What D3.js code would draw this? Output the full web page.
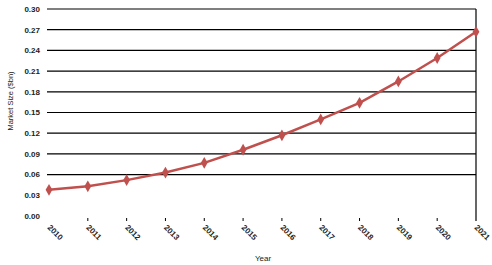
<!DOCTYPE html>
<html>
<head>
<meta charset="utf-8">
<script src="https://cdn.jsdelivr.net/npm/d3@7"></script>
<style>
  body { margin: 0; background: #fff; }
  text { font-family: "Liberation Sans", Arial, sans-serif; }
</style>
</head>
<body>
<div id="chart"></div>
<script>
const years = ["2010", "2011", "2012", "2013", "2014", "2015", "2016", "2017", "2018", "2019", "2020", "2021"];
const marketSize = [0.038, 0.043, 0.052, 0.063, 0.077, 0.096, 0.117, 0.140, 0.164, 0.195, 0.229, 0.267];
const yTicks = [0.00, 0.03, 0.06, 0.09, 0.12, 0.15, 0.18, 0.21, 0.24, 0.27, 0.30];

const W = 492, H = 265;
const margin = { top: 9, right: 16, bottom: 49, left: 49 };
const width = W - margin.left - margin.right;
const height = H - margin.top - margin.bottom;

const svg = d3.select("#chart")
  .append("svg")
  .attr("width", W)
  .attr("height", H)
  .append("g")
  .attr("transform", `translate(${margin.left},${margin.top})`);

const x = d3.scalePoint().domain(years).range([0, 427]);
const y = d3.scaleLinear().domain([0, 0.30]).range([height, 0]);

// gridlines (only from 0.06 up, as in the original)
svg.append("g")
  .selectAll("line")
  .data(yTicks.filter((d) => d >= 0.06))
  .enter()
  .append("line")
  .attr("x1", -2)
  .attr("x2", x("2021"))
  .attr("y1", (d) => y(d))
  .attr("y2", (d) => y(d))
  .attr("stroke", "#000")
  .attr("stroke-width", 1.2);

// right border
svg.append("line")
  .attr("x1", x("2021"))
  .attr("x2", x("2021"))
  .attr("y1", y(0.30))
  .attr("y2", height + 5)
  .attr("stroke", "#000")
  .attr("stroke-width", 1.2);

// y tick labels
svg.append("g")
  .selectAll("text")
  .data(yTicks)
  .enter()
  .append("text")
  .attr("x", -9)
  .attr("y", (d) => y(d))
  .attr("dy", "0.35em")
  .attr("text-anchor", "end")
  .attr("font-size", 8)
  .attr("font-weight", "bold")
  .attr("fill", "#222")
  .text((d) => d.toFixed(2));

// x ticks
const xAxis = svg.append("g").attr("transform", `translate(0,${height + 2})`);
xAxis.selectAll("line")
  .data(years.slice(1, -1))
  .enter()
  .append("line")
  .attr("x1", (d) => x(d))
  .attr("x2", (d) => x(d))
  .attr("y1", 0)
  .attr("y2", 3)
  .attr("stroke", "#000");

xAxis.selectAll("text")
  .data(years)
  .enter()
  .append("text")
  .attr("transform", (d) => `translate(${x(d) - 2},10)rotate(45)`)
  .attr("font-size", 8)
  .attr("font-weight", "bold")
  .attr("fill", "#222")
  .text((d) => d);

// axis titles
svg.append("text")
  .attr("x", 214)
  .attr("y", height + 45)
  .attr("text-anchor", "middle")
  .attr("font-size", 8)
  .attr("fill", "#222")
  .text("Year");

svg.append("text")
  .attr("transform", `translate(${-36},${92})rotate(-90)`)
  .attr("text-anchor", "middle")
  .attr("font-size", 7.5)
  .attr("fill", "#222")
  .text("Market Size ($bn)");

// line
const line = d3.line()
  .x((d, i) => x(years[i]))
  .y((d) => y(d));

svg.append("path")
  .datum(marketSize)
  .attr("fill", "none")
  .attr("stroke", "#c0504d")
  .attr("stroke-width", 2.5)
  .attr("d", line);

svg.selectAll(".pt")
  .data(marketSize)
  .enter()
  .append("path")
  .attr("class", "pt")
  .attr("d", d3.symbol().type(d3.symbolDiamond).size(40))
  .attr("transform", (d, i) => `translate(${x(years[i])},${y(d)})`)
  .attr("fill", "#c0504d");
</script>
</body>
</html>
